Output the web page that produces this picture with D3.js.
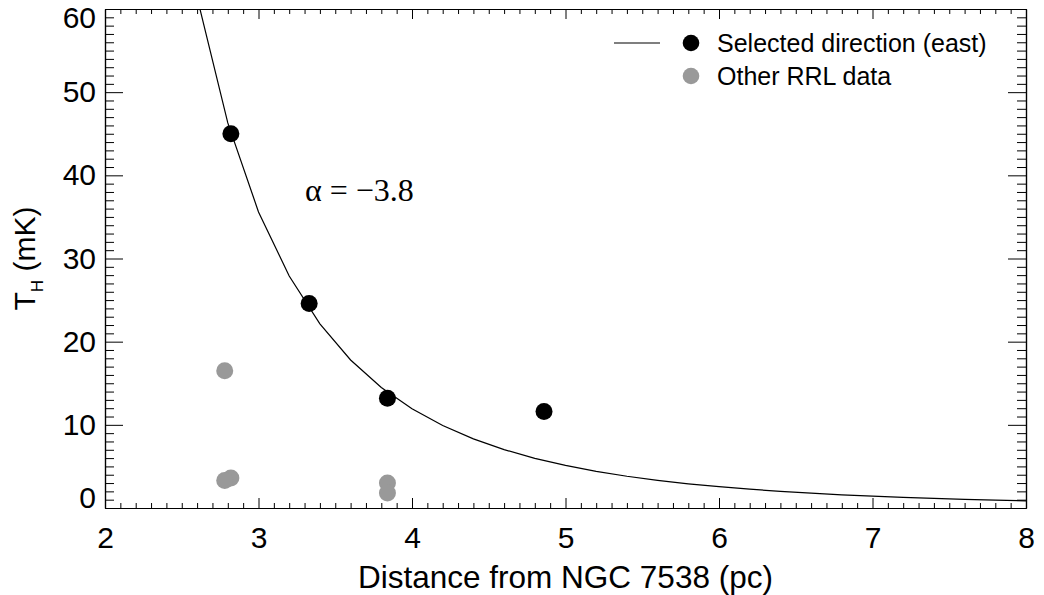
<!DOCTYPE html>
<html>
<head>
<meta charset="utf-8">
<script src="https://cdn.jsdelivr.net/npm/d3@7"></script>
<style>
  body { margin: 0; background: #fff; }
  svg { display: block; font-family: "Liberation Sans", Arial, sans-serif; }
</style>
</head>
<body>
<div id="chart"></div>
<script>
// data
const eastDist  = [2.82, 3.33, 3.84, 4.86];
const eastTH    = [45.0, 24.6, 13.2, 11.6];

const otherDist = [2.78, 2.82, 2.78, 3.84, 3.84];
const otherTH   = [16.5, 3.6, 3.3, 3.0, 1.8];

// fitted power-law line (alpha = -3.8), sampled points
const fitDist = [2.6, 2.8, 3.0, 3.2, 3.4, 3.6, 3.8, 4.0, 4.2, 4.4, 4.6, 4.8, 5.0,
                 5.2, 5.4, 5.6, 5.8, 6.0, 6.2, 6.4, 6.6, 6.8, 7.0, 7.2, 7.4, 7.6, 7.8, 8.0];
const fitTH   = [61.4, 46.3, 35.6, 27.9, 22.15, 17.8, 14.5, 11.94, 9.92, 8.31, 7.02, 5.97, 5.12,
                 4.41, 3.82, 3.33, 2.91, 2.56, 2.26, 2.00, 1.78, 1.59, 1.42, 1.28, 1.15, 1.04, 0.94, 0.86];

const xMajor = [2, 3, 4, 5, 6, 7, 8];
const yMajor = [0, 10, 20, 30, 40, 50, 60];

const W = 1044, H = 595;
const margin = { top: 9, right: 18, bottom: 87, left: 105 };
const width  = W - margin.left - margin.right;
const height = H - margin.top - margin.bottom;

const svg = d3.select("#chart").append("svg")
  .attr("width", W)
  .attr("height", H);

const g = svg.append("g")
  .attr("transform", `translate(${margin.left},${margin.top})`);

const x = d3.scaleLinear().domain([2, 8]).range([0, width]);
const y = d3.scaleLinear().domain([0, 60]).range([height, 0]);

const xMinor = d3.range(20, 81).map(d => d / 10).filter(d => !xMajor.includes(d));
const yMinor = d3.range(0, 61).filter(d => !yMajor.includes(d));

// minor ticks, all four sides
g.append("g").attr("transform", `translate(0,${height})`)
  .call(d3.axisBottom(x).tickValues(xMinor).tickSize(-5).tickSizeOuter(0).tickFormat(""));
g.append("g")
  .call(d3.axisTop(x).tickValues(xMinor).tickSize(-5).tickSizeOuter(0).tickFormat(""));
g.append("g")
  .call(d3.axisLeft(y).tickValues(yMinor).tickSize(-9).tickSizeOuter(0).tickFormat(""));
g.append("g").attr("transform", `translate(${width},0)`)
  .call(d3.axisRight(y).tickValues(yMinor).tickSize(-9).tickSizeOuter(0).tickFormat(""));

// major ticks
const xAxis = g.append("g").attr("transform", `translate(0,${height})`)
  .call(d3.axisBottom(x).tickValues(xMajor).tickSize(-10).tickSizeOuter(0).tickPadding(19).tickFormat(d3.format("d")));
g.append("g")
  .call(d3.axisTop(x).tickValues(xMajor).tickSize(-10).tickSizeOuter(0).tickFormat(""));
const yAxis = g.append("g")
  .call(d3.axisLeft(y).tickValues(yMajor).tickSize(-18).tickSizeOuter(0).tickPadding(9).tickFormat(d3.format("d")));
g.append("g").attr("transform", `translate(${width},0)`)
  .call(d3.axisRight(y).tickValues(yMajor).tickSize(-18).tickSizeOuter(0).tickFormat(""));

g.selectAll(".domain").attr("stroke", "#000").attr("stroke-width", 1.2);
g.selectAll(".tick line").attr("stroke", "#000");

xAxis.selectAll("text")
  .attr("font-size", 30)
  .attr("font-family", "Liberation Sans, Arial, sans-serif")
  .attr("fill", "#000");

// end labels are pulled inside the frame, as in the original
yAxis.selectAll("text")
  .attr("font-size", 30)
  .attr("font-family", "Liberation Sans, Arial, sans-serif")
  .attr("fill", "#000")
  .attr("y", d => d === 60 ? 8.5 : d === 0 ? -10 : 0);

// axis titles
svg.append("text")
  .attr("x", margin.left + width / 2)
  .attr("y", 588)
  .attr("text-anchor", "middle")
  .attr("font-size", 31.5)
  .text("Distance from NGC 7538 (pc)");

const yTitle = svg.append("text")
  .attr("transform", `translate(35,${margin.top + height / 2}) rotate(-90)`)
  .attr("text-anchor", "middle")
  .attr("font-size", 30);
yTitle.append("tspan").text("T");
yTitle.append("tspan").attr("font-size", 17).attr("dy", 8).text("H");
yTitle.append("tspan").attr("dy", -8).text(" (mK)");

// fit curve
svg.append("clipPath").attr("id", "plot-clip")
  .append("rect").attr("width", width).attr("height", height);

const fitData = fitDist.map((d, i) => [d, fitTH[i]]);
g.append("path")
  .datum(fitData)
  .attr("clip-path", "url(#plot-clip)")
  .attr("fill", "none")
  .attr("stroke", "#000")
  .attr("stroke-width", 1.2)
  .attr("d", d3.line().x(d => x(d[0])).y(d => y(d[1])));

// points
g.selectAll(".other")
  .data(otherDist.map((d, i) => [d, otherTH[i]]))
  .join("circle")
    .attr("class", "other")
    .attr("cx", d => x(d[0]))
    .attr("cy", d => y(d[1]))
    .attr("r", 8.5)
    .attr("fill", "#999");

g.selectAll(".east")
  .data(eastDist.map((d, i) => [d, eastTH[i]]))
  .join("circle")
    .attr("class", "east")
    .attr("cx", d => x(d[0]))
    .attr("cy", d => y(d[1]))
    .attr("r", 8.5)
    .attr("fill", "#000");

// alpha label
svg.append("text")
  .attr("x", 305)
  .attr("y", 201)
  .attr("font-family", "Liberation Serif, Times New Roman, serif")
  .attr("font-size", 32)
  .text("α = −3.8");

// legend
const legend = svg.append("g").attr("font-size", 25);
legend.append("line")
  .attr("x1", 614).attr("x2", 660)
  .attr("y1", 43).attr("y2", 43)
  .attr("stroke", "#000").attr("stroke-width", 1.2);
legend.append("circle").attr("cx", 691).attr("cy", 43).attr("r", 8.3).attr("fill", "#000");
legend.append("text").attr("x", 717).attr("y", 52).text("Selected direction (east)");
legend.append("circle").attr("cx", 691).attr("cy", 76).attr("r", 8.3).attr("fill", "#999");
legend.append("text").attr("x", 717).attr("y", 85).text("Other RRL data");
</script>
</body>
</html>
